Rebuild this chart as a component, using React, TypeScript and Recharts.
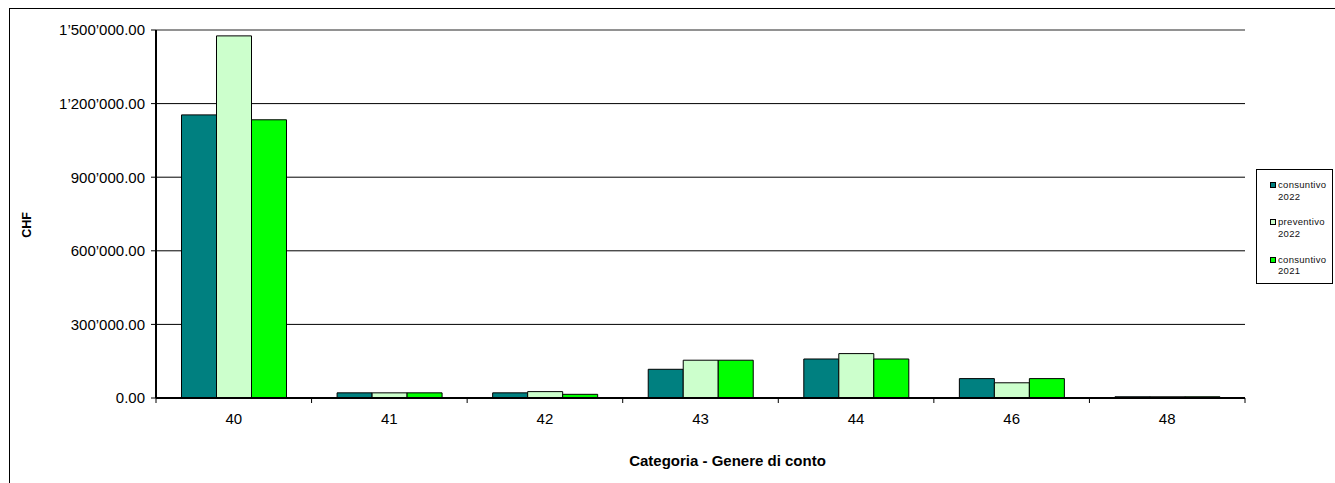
import React from 'react';
import { BarChart, Bar, XAxis, YAxis, CartesianGrid, ReferenceLine } from 'recharts';

const categories = ['40', '41', '42', '43', '44', '46', '48'];
const consuntivo2022 = [1154000, 21000, 21000, 117000, 159000, 79000, 5000];
const preventivo2022 = [1476000, 21000, 26000, 154000, 181000, 62000, 5000];
const consuntivo2021 = [1134000, 21000, 15000, 154000, 159000, 79000, 5000];
const yTicks = [0, 300000, 600000, 900000, 1200000, 1500000];
const seriesKeys = ['c2022', 'p2022', 'c2021'];
const seriesNames = ['consuntivo 2022', 'preventivo 2022', 'consuntivo 2021'];
const seriesColors = ['#008080', '#CCFFCC', '#00FF00'];

const data = categories.map((c, i) => ({
  cat: c,
  c2022: consuntivo2022[i],
  p2022: preventivo2022[i],
  c2021: consuntivo2021[i],
}));

const W = 1335;
const H = 483;
const MARGIN = { top: 30, right: 90, left: 0, bottom: 55 };
const Y_W = 156;
const X_H = 30;
const PLOT_W = W - MARGIN.left - MARGIN.right - Y_W;
const HALF_BAND = PLOT_W / categories.length / 2;
const FONT = '"Liberation Sans", Arial, sans-serif';

const fmt = (v: number) => {
  const s = Math.round(v).toString().replace(/\B(?=(\d{3})+(?!\d))/g, '\u2019');
  return s + '.00';
};

const XTick = (props: any) => {
  const { x, y, payload, index } = props;
  const axisY = y - 15;
  return (
    <g>
      <line x1={x - HALF_BAND} x2={x - HALF_BAND} y1={axisY} y2={axisY + 5} stroke="#000" strokeWidth={1} />
      {index === categories.length - 1 && (
        <line x1={x + HALF_BAND} x2={x + HALF_BAND} y1={axisY} y2={axisY + 5} stroke="#000" strokeWidth={1} />
      )}
      <text x={x} y={y} dy="0.71em" textAnchor="middle" fill="#000" fontSize={15} fontFamily={FONT}>
        {payload.value}
      </text>
    </g>
  );
};

const LegendBox = () => (
  <div
    style={{
      position: 'absolute',
      left: 1256,
      top: 169,
      width: 77,
      height: 115,
      border: '1px solid #000',
      background: '#fff',
      fontFamily: FONT,
      fontSize: 9.5,
      letterSpacing: '0.3px',
      lineHeight: '11.5px',
      color: '#111',
      boxSizing: 'border-box',
    }}
  >
    {seriesNames.map((n, i) => {
      const [a, b] = [n.slice(0, n.lastIndexOf(' ')), n.slice(n.lastIndexOf(' ') + 1)];
      return (
        <div key={n} style={{ position: 'absolute', left: 13, top: 9 + i * 37.3 }}>
          <span
            style={{
              position: 'absolute',
              left: 0,
              top: 3,
              width: 4,
              height: 4,
              background: seriesColors[i],
              border: '1px solid #000',
            }}
          />
          <div style={{ marginLeft: 8 }}>{a}</div>
          <div style={{ marginLeft: 8 }}>{b}</div>
        </div>
      );
    })}
  </div>
);

export default function App() {
  return (
    <div style={{ position: 'absolute', left: 0, top: 0, width: W, height: H, overflow: 'hidden', background: '#fff' }}>
      <div
        style={{
          position: 'absolute',
          left: 9,
          top: 8,
          width: 1400,
          height: 600,
          border: '1.5px solid #000',
        }}
      />
      <div style={{ position: 'absolute', left: 0, top: 0 }}>
        <BarChart width={W} height={H} data={data} margin={MARGIN} barGap={0} barCategoryGap="16.4%">
          <CartesianGrid vertical={false} stroke="#000" strokeWidth={1} />
          <ReferenceLine y={1500000} stroke="#999" strokeWidth={1.5} />
          <YAxis
            yAxisId="right"
            orientation="right"
            width={0}
            domain={[0, 1500000]}
            tick={false}
            tickLine={false}
            axisLine={{ stroke: '#999', strokeWidth: 1.5 }}
          />
          {seriesKeys.map((k, i) => (
            <Bar
              key={k}
              dataKey={k}
              name={seriesNames[i]}
              fill={seriesColors[i]}
              stroke="#000"
              strokeWidth={1}
              isAnimationActive={false}
            />
          ))}
          <XAxis
            dataKey="cat"
            height={X_H}
            tickLine={false}
            tickSize={5}
            tickMargin={10}
            axisLine={{ stroke: '#000', strokeWidth: 2 }}
            tick={<XTick />}
            interval={0}
            label={{
              content: (p: any) => {
                const vb = p.viewBox;
                return (
                  <text
                    x={vb.x + vb.width / 2 + 27}
                    y={466}
                    textAnchor="middle"
                    fontSize={15}
                    fontWeight="bold"
                    fontFamily={FONT}
                    fill="#000"
                  >
                    Categoria - Genere di conto
                  </text>
                );
              },
            }}
          />
          <YAxis
            width={Y_W}
            domain={[0, 1500000]}
            ticks={yTicks}
            interval={0}
            tickFormatter={fmt}
            tickSize={5}
            tickMargin={6}
            tickLine={{ stroke: '#000' }}
            axisLine={{ stroke: '#000', strokeWidth: 2 }}
            tick={{ fill: '#000', fontSize: 15, fontFamily: FONT }}
            label={{
              content: (p: any) => {
                const vb = p.viewBox;
                return (
                  <text
                    x={27}
                    y={vb.y + vb.height / 2 + 11}
                    transform={`rotate(-90, 27, ${vb.y + vb.height / 2 + 11})`}
                    textAnchor="middle"
                    dominantBaseline="central"
                    fontSize={12.5}
                    fontWeight="bold"
                    fontFamily={FONT}
                    fill="#000"
                  >
                    CHF
                  </text>
                );
              },
            }}
          />
        </BarChart>
      </div>
      <LegendBox />
    </div>
  );
}
